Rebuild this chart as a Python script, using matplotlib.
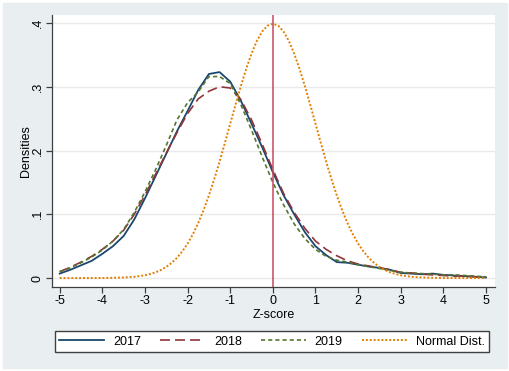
import matplotlib.pyplot as plt
from matplotlib.patches import Rectangle

plt.rcParams['font.family'] = ['Liberation Sans', 'DejaVu Sans']

# z-score grid the densities were read at
z = [-5, -4.75, -4.5, -4.25, -4, -3.75, -3.5, -3.25, -3, -2.75, -2.5, -2.25,
     -2, -1.75, -1.5, -1.25, -1, -0.75, -0.5, -0.25, 0, 0.25, 0.5, 0.75,
     1, 1.25, 1.5, 1.75, 2, 2.25, 2.5, 2.75, 3, 3.25, 3.5, 3.75, 4, 4.25,
     4.5, 4.75, 5]

dens_2017 = [0.007, 0.013, 0.020, 0.027, 0.038, 0.050, 0.066, 0.092, 0.125,
             0.160, 0.195, 0.230, 0.262, 0.295, 0.320, 0.323, 0.308, 0.278,
             0.242, 0.205, 0.166, 0.130, 0.100, 0.072, 0.050, 0.036, 0.025,
             0.024, 0.021, 0.018, 0.016, 0.013, 0.008, 0.007, 0.006, 0.007,
             0.005, 0.004, 0.003, 0.002, 0.001]

dens_2018 = [0.010, 0.017, 0.025, 0.034, 0.045, 0.058, 0.075, 0.100, 0.130,
             0.163, 0.196, 0.228, 0.258, 0.281, 0.293, 0.300, 0.298, 0.280,
             0.248, 0.210, 0.170, 0.133, 0.103, 0.078, 0.058, 0.045, 0.035,
             0.027, 0.022, 0.019, 0.016, 0.013, 0.009, 0.008, 0.006, 0.005,
             0.004, 0.003, 0.003, 0.002, 0.001]

dens_2019 = [0.010, 0.016, 0.024, 0.033, 0.044, 0.058, 0.076, 0.103, 0.135,
             0.170, 0.208, 0.248, 0.275, 0.292, 0.316, 0.316, 0.305, 0.272,
             0.232, 0.190, 0.150, 0.115, 0.085, 0.062, 0.045, 0.034, 0.028,
             0.025, 0.021, 0.018, 0.015, 0.012, 0.009, 0.008, 0.007, 0.006,
             0.005, 0.005, 0.004, 0.003, 0.002]

# standard normal reference curve, finer grid
z_norm = [-5, -4.5, -4, -3.75, -3.5, -3.25, -3, -2.875, -2.75, -2.625, -2.5,
          -2.375, -2.25, -2.125, -2, -1.875, -1.75, -1.625, -1.5, -1.375,
          -1.25, -1.125, -1, -0.875, -0.75, -0.625, -0.5, -0.375, -0.25,
          -0.125, 0, 0.125, 0.25, 0.375, 0.5, 0.625, 0.75, 0.875, 1, 1.125,
          1.25, 1.375, 1.5, 1.625, 1.75, 1.875, 2, 2.125, 2.25, 2.375, 2.5,
          2.625, 2.75, 2.875, 3, 3.25, 3.5, 3.75, 4, 4.5, 5]
normal = [0.0000, 0.0000, 0.0001, 0.0004, 0.0009, 0.0020, 0.0044, 0.0064,
          0.0091, 0.0127, 0.0175, 0.0237, 0.0317, 0.0417, 0.0540, 0.0689,
          0.0863, 0.1065, 0.1295, 0.1550, 0.1826, 0.2119, 0.2420, 0.2721,
          0.3011, 0.3280, 0.3521, 0.3719, 0.3867, 0.3958, 0.3989, 0.3958,
          0.3867, 0.3719, 0.3521, 0.3280, 0.3011, 0.2721, 0.2420, 0.2119,
          0.1826, 0.1550, 0.1295, 0.1065, 0.0863, 0.0689, 0.0540, 0.0417,
          0.0317, 0.0237, 0.0175, 0.0127, 0.0091, 0.0064, 0.0044, 0.0020,
          0.0009, 0.0004, 0.0001, 0.0000, 0.0000]

x_ticks = [-5, -4, -3, -2, -1, 0, 1, 2, 3, 4, 5]
x_labels = ['-5', '-4', '-3', '-2', '-1', '0', '1', '2', '3', '4', '5']
y_ticks = [0, 0.1, 0.2, 0.3, 0.4]
y_labels = ['0', '.1', '.2', '.3', '.4']

W, H = 510, 371
fig = plt.figure(figsize=(W / 100, H / 100), dpi=100, facecolor='white')
fig.patches.append(Rectangle((3 / W, 3 / H), 504 / W, 365 / H,
                             transform=fig.transFigure, color='#e9eff1',
                             zorder=-10))

ax = fig.add_axes([52 / W, 1 - 287 / H, 443 / W, 272 / H])
ax.set_facecolor('white')

ax.plot(z, dens_2017, color='#1a476f', lw=1.3, label='2017')
ax.plot(z, dens_2018, color='#90353b', lw=1.2, dashes=(6, 3), label='2018')
ax.plot(z, dens_2019, color='#55752f', lw=1.2, dashes=(2.5, 1.8), label='2019')
ax.plot(z_norm, normal, color='#e37e00', lw=1.4, dashes=(1, 1), label='Normal Dist.')
ax.axvline(0, color='#c8485e', lw=1.1)

ax.set_xlim(-5.18, 5.21)
ax.set_ylim(-0.014, 0.4125)
ax.set_xticks(x_ticks)
ax.set_xticklabels(x_labels)
ax.set_yticks(y_ticks)
ax.set_yticklabels(y_labels, rotation=90, va='center')
ax.grid(axis='y', color='#eaeaea', lw=1)
ax.set_axisbelow(True)

for s in ['top', 'right']:
    ax.spines[s].set_visible(False)
for s in ['left', 'bottom']:
    ax.spines[s].set_color('#404040')
    ax.spines[s].set_linewidth(0.9)
ax.tick_params(length=4, width=0.9, color='#404040', labelsize=9, pad=2)

ax.set_xlabel('Z-score', fontsize=9, labelpad=1)
ax.set_ylabel('Densities', fontsize=9, labelpad=0)

ax.legend(loc='lower left', bbox_to_anchor=(55 / W, 1 - 352 / H, 434 / W, 24 / H),
          bbox_transform=fig.transFigure, mode='expand', ncol=4, fontsize=9,
          frameon=True, fancybox=False, edgecolor='#404040', framealpha=1,
          handlelength=3.6, handletextpad=0.7, borderaxespad=0,
          borderpad=0.35)

fig.savefig('out.png', dpi=100, facecolor=fig.get_facecolor())
